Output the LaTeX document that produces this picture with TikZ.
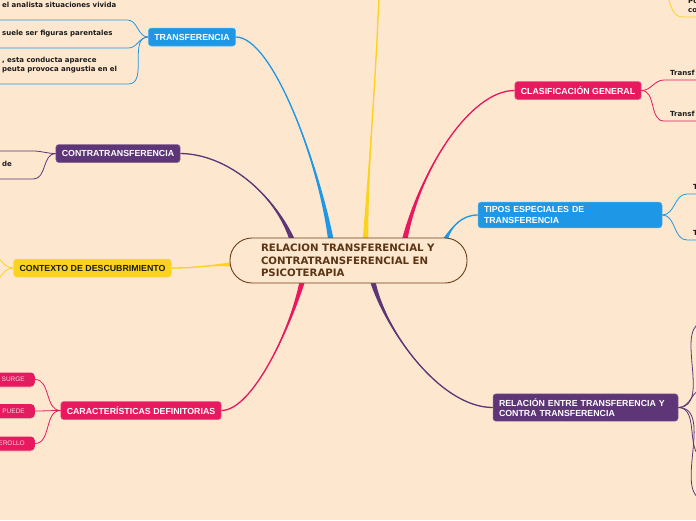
\documentclass[tikz,border=0pt]{standalone}
\usepackage{xcolor}
\usepackage{fontspec}
\setmainfont{Liberation Sans}
\newfontfamily\dejavu{DejaVu Sans}
\usepackage{tikz}
\usetikzlibrary{shadows}
\definecolor{peach}{HTML}{FEE7CF}
\definecolor{sky}{HTML}{1E98E6}
\definecolor{plum}{HTML}{5E3577}
\definecolor{gold}{HTML}{FBD31E}
\definecolor{rose}{HTML}{E8195F}
\definecolor{bark}{HTML}{6B3F17}
\definecolor{ink}{HTML}{1C1C1C}
\definecolor{blush}{HTML}{FBDCE6}
\pgfdeclarelayer{back}
\pgfsetlayers{back,main}
\newcommand\taperline[5]{%
  \fill[#1] (#2) .. controls #3 and #4 .. ([xshift=-2.8pt]#5) -- ([xshift=2.8pt]#5)
    .. controls #4 and #3 .. (#2) -- cycle;
  \draw[#1, line width=1.3pt] (#2) .. controls #3 and #4 .. (#5);}
\tikzset{
  topic/.style={rounded corners=3pt, fill=#1, draw=#1!75!white, line width=0.5pt,
    text=white, font=\bfseries\fontsize{8.8}{10.5}\selectfont,
    inner xsep=6pt, inner ysep=4.5pt, minimum height=18pt, align=left},
  leaf/.style={font=\dejavu\bfseries\fontsize{7}{9}\selectfont, text=ink,
    align=left, anchor=south west, execute at end node=\strut},
  lleaf/.style={leaf, inner xsep=2pt, inner ysep=9.3pt},
  rleaf/.style={leaf, inner xsep=6pt, inner ysep=1.8pt, text width=40pt},
  twig/.style={line width=0.8pt},
  chip/.style={fill=rose, rounded corners=4pt, text=blush,
    font=\fontsize{6.5}{7}\selectfont, minimum height=14pt, inner xsep=10pt,
    anchor=east, drop shadow={opacity=0.3, shadow xshift=0pt, shadow yshift=-1pt}}
}

\begin{document}
\begin{tikzpicture}[x=1pt, y=-1pt]
\useasboundingbox (0,0) rectangle (696,520);
\clip (0,0) rectangle (696,520);

\node[minimum width=237pt, minimum height=45pt, rounded corners=22pt, draw=bark,
      line width=0.9pt, fill=peach, text=bark!85!black, inner sep=0pt,
      font=\dejavu\bfseries\fontsize{10.2}{12.5}\selectfont,
      text width=175pt, align=left] (cen) at (348.5,260.5)
      {RELACION TRANSFERENCIAL Y\\CONTRATRANSFERENCIAL EN\\PSICOTERAPIA};

\node[topic=sky] (trans) at (192,37) {TRANSFERENCIA};
\node[topic=plum] (contra) at (118,153.5) {CONTRATRANSFERENCIA};
\node[topic=gold, text=ink] (contexto) at (92.5,268) {CONTEXTO DE DESCUBRIMIENTO};
\node[topic=rose] (caract) at (141,410.5) {CARACTERÍSTICAS DEFINITORIAS};
\node[topic=rose] (clasif) at (578,90.5) {CLASIFICACIÓN GENERAL};
\node[topic=sky, text width=172pt] (tipos) at (570,215) {TIPOS ESPECIALES DE\\TRANSFERENCIA};
\node[topic=plum, text width=173pt] (relacion) at (585.5,407.5)
      {RELACIÓN ENTRE TRANSFERENCIA Y\\CONTRA TRANSFERENCIA};

\node[lleaf, text width=123pt] (tr1) at (0,20) {el analista situaciones vivida};
\node[lleaf, text width=124pt] (tr2) at (0,48) {suele ser figuras parentales};
\node[lleaf, text width=124pt] (tr3) at (0,84) {, esta conducta aparece\\peuta provoca angustia en el};
\node[lleaf, text width=29pt] (ct2) at (0,179) {de};
\coordinate (ct1) at (33,151);
\coordinate (ct0) at (-4,151);
\coordinate (cx1) at (-14,250);
\coordinate (cx2) at (-14,287);

\node[chip] (surge) at (35,379.5) {SURGE};
\node[chip] (puede) at (35,411) {PUEDE};
\node[chip] (desarrollo) at (35,443.5) {EROLLO};

\node[rleaf] (cg1) at (664,80) {Transf};
\node[rleaf] (cg2) at (664,121) {Transf};
\node[rleaf] (ts1) at (687,194) {T};
\node[rleaf] (ts2) at (687,240) {T};
\node[rleaf, inner xsep=5pt] (pc) at (683,17) {Po\\co};
\coordinate (ptop) at (667,-6);
\coordinate (r1) at (706,322);
\coordinate (r2) at (705,388);
\coordinate (r3) at (706,458);
\coordinate (r4) at (707,500);

\coordinate (eT) at ([xshift=-17.5pt, yshift=-3pt]cen.north);
\coordinate (eC) at ([xshift=-56pt, yshift=-3pt]cen.north);
\coordinate (eY) at ([xshift=17pt, yshift=-3pt]cen.north);
\coordinate (eG) at ([xshift=56pt, yshift=-3pt]cen.north);
\coordinate (eS) at ([xshift=96pt, yshift=-3pt]cen.north);
\coordinate (eD) at ([xshift=-46pt, yshift=3pt]cen.south);
\coordinate (eR) at ([xshift=24pt, yshift=3pt]cen.south);
\coordinate (eX) at ([xshift=4pt, yshift=-4pt]cen.west);
\coordinate (ytop) at (379,-6);

\begin{pgfonlayer}{back}
\fill[peach] (0,0) rectangle (696,520);
\clip (0,0) rectangle (696,520);
\taperline{sky}{trans.east}{(272,37)}{(318,160)}{eT}
\taperline{plum}{contra.east}{(228,154)}{(275,195)}{eC}
\taperline{gold}{ytop}{(376,80)}{(368,170)}{eY}
\taperline{rose}{clasif.west}{(470,90.5)}{(420,170)}{eG}
\taperline{sky}{tipos.west}{(462,215)}{(452,226)}{eS}
\taperline{rose}{caract.east}{(252,410.5)}{(290,330)}{eD}
\taperline{plum}{relacion.west}{(440,407.5)}{(385,330)}{eR}
\fill[gold] (contexto.east) .. controls (200,268) and (212,264.5) .. ([yshift=2.4pt]eX)
  -- ([yshift=-2.4pt]eX) .. controls (212,264.5) and (200,268) .. (contexto.east) -- cycle;
\draw[gold, line width=1.3pt] (contexto.east) .. controls (200,268) and (212,264.5) .. (eX);

\draw[sky, twig] (trans.west) to[out=180, in=0] (tr1.south east) -- (tr1.south west);
\draw[sky, twig] (trans.west) to[out=180, in=0] (tr2.south east) -- (tr2.south west);
\draw[sky, twig] (trans.west) to[out=180, in=0] (tr3.south east) -- (tr3.south west);
\draw[plum, twig] (contra.west) to[out=180, in=0] (ct1) -- (ct0);
\draw[plum, twig] (contra.west) to[out=180, in=0] (ct2.south east) -- (ct2.south west);
\draw[gold, twig] (contexto.west) to[out=180, in=0] (cx1);
\draw[gold, twig] (contexto.west) to[out=180, in=0] (cx2);
\draw[rose, twig] (caract.west) to[out=180, in=0] (surge.east);
\draw[rose, twig] (caract.west) to[out=180, in=0] (puede.east);
\draw[rose, twig] (caract.west) to[out=180, in=0] (desarrollo.east);
\draw[rose, twig] (clasif.east) to[out=0, in=180] (cg1.south west) -- (cg1.south east);
\draw[rose, twig] (clasif.east) to[out=0, in=180] (cg2.south west) -- (cg2.south east);
\draw[sky, twig] (tipos.east) to[out=0, in=180] (ts1.south west) -- (ts1.south east);
\draw[sky, twig] (tipos.east) to[out=0, in=180] (ts2.south west) -- (ts2.south east);
\draw[gold, twig] (ptop) to[out=-70, in=180] (pc.south west) -- (pc.south east);
\draw[plum, twig] (relacion.east) to[out=0, in=180] (r1);
\draw[plum, twig] (relacion.east) to[out=0, in=180] (r2);
\draw[plum, twig] (relacion.east) to[out=0, in=180] (r3);
\draw[plum, twig] (relacion.east) to[out=0, in=180] (r4);
\end{pgfonlayer}
\end{tikzpicture}
\end{document}
